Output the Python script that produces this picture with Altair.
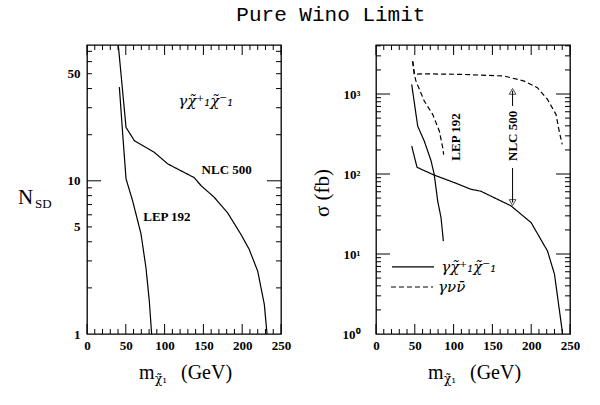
import altair as alt
import pandas as pd

# ---------------- data ----------------
# Left panel: N_SD vs chargino mass
left_nlc_m = [40.0, 50.3, 61, 87, 104, 138, 147, 164, 181, 198, 209, 220, 228.5, 232]
left_nlc_v = [80, 22.3, 18.3, 15.3, 12.9, 10.5, 9.3, 7.8, 6.2, 4.5, 3.57, 2.57, 1.56, 1.0]
left_lep_m = [41.7, 46, 50.3, 58.8, 69.6, 76, 80.3, 83.3]
left_lep_v = [40.9, 20.2, 10.3, 7.4, 4.5, 2.7, 1.64, 1.0]

# Right panel: cross sections (fb)
r_lep_solid_m = [46, 53.7, 62.2, 71, 75, 79.5, 83.8, 86.8]
r_lep_solid_v = [1320, 398, 258, 146, 99, 46, 28.5, 14.5]
r_nlc_solid_m = [46, 52.8, 58, 75, 101, 122, 135, 148, 174, 200, 221, 230, 240.5]
r_nlc_solid_v = [224, 122, 115, 97, 78, 64.6, 61, 53, 40, 24.6, 10.9, 5.6, 1.0]
r_nlc_dash_m = [47.3, 49.4, 60, 110, 165, 191, 208, 221, 232, 236, 240]
r_nlc_dash_v = [2570, 1762, 1790, 1760, 1680, 1450, 1200, 855, 557, 345, 235]
r_lep_dash_m = [47.3, 49.4, 51.5, 62.2, 73, 81.6, 86, 87.2]
r_lep_dash_v = [2570, 1762, 1450, 818, 557, 345, 213, 175]

x_major = [0, 50, 100, 150, 200, 250]
x_minor = [v for v in range(0, 251, 10) if v % 50 != 0]
left_y_labels = [1, 5, 10, 50]
left_y_major = [10]
left_y_minor = [2, 3, 4, 5, 6, 7, 8, 9, 20, 30, 40, 50, 60, 70]
right_y_labels = [1, 10, 100, 1000]
right_y_major = [10, 100, 1000]
right_y_minor = [k * 10 ** e for e in range(0, 4) for k in range(2, 10) if k * 10 ** e < 4100]

LBL_CHI = "γχ\u0303\u207a\u2081χ\u0303\u207b\u2081"
LBL_NU = "γνν\u0304"

W, H = 194, 289
TICKFONT = "Liberation Serif"
SERIF = "Liberation Serif"


def series_df(d):
    rows = []
    for name, (ms, vs) in d.items():
        for i, (m, v) in enumerate(zip(ms, vs)):
            rows.append({"series": name, "m": m, "v": v, "i": i})
    return pd.DataFrame(rows)


def make_axis(values, label_expr=None, pad=5):
    kw = dict(values=values, ticks=False, domain=False, grid=False, title=None,
              labelFont=TICKFONT, labelFontSize=13, labelFontWeight="bold",
              labelColor="black", labelPadding=pad, labelFlush=False,
              labelOverlap=False, format="d")
    if label_expr:
        kw["labelExpr"] = label_expr
    return alt.Axis(**kw)


def panel(lines_df, ydomain, ylabels, ymajor, yminor, label_expr, ypad, extra_layers):
    X = alt.X("m:Q", scale=alt.Scale(domain=[0, 250], nice=False), axis=make_axis(x_major))
    Y = alt.Y("v:Q", scale=alt.Scale(type="log", domain=ydomain, nice=False),
              axis=make_axis(ylabels, label_expr, ypad))

    lines = alt.Chart(lines_df).mark_line(color="black", strokeWidth=1.2, clip=True).encode(
        x=X, y=Y, detail="series:N", order="i:Q",
        strokeDash=alt.StrokeDash("dash:N", scale=alt.Scale(domain=["solid", "dashed"], range=[[1, 0], [5, 3]]), legend=None),
    )

    def xticks(vals, ln):
        df = pd.DataFrame({"m": vals})
        b = alt.Chart(df).mark_rule(color="black", strokeWidth=1)
        return [b.encode(x=X, y=alt.value(H), y2=alt.value(H - ln)),
                b.encode(x=X, y=alt.value(0), y2=alt.value(ln))]

    def yticks(vals, ln):
        df = pd.DataFrame({"v": vals})
        b = alt.Chart(df).mark_rule(color="black", strokeWidth=1)
        return [b.encode(y=Y, x=alt.value(0), x2=alt.value(ln)),
                b.encode(y=Y, x=alt.value(W), x2=alt.value(W - ln))]

    ticks = xticks(x_minor, 5) + xticks(x_major, 10) + yticks(yminor, 5) + yticks(ymajor, 14)
    layers = [lines] + ticks + [f(X, Y) for f in extra_layers]
    return alt.layer(*layers).properties(width=W, height=H)


def fixed_text(txt, x, y, size, angle=0, align="left", baseline="alphabetic", font=SERIF, style="normal"):
    return alt.Chart(alt.Data(values=[{"k": 0}])).mark_text(
        font=font, fontSize=size, align=align, baseline=baseline, angle=angle,
        color="black", fontStyle=style).encode(
        x=alt.value(x), y=alt.value(y), text=alt.value(txt))


# ---------- left panel ----------
left_df = series_df({"nlc": (left_nlc_m, left_nlc_v), "lep": (left_lep_m, left_lep_v)})
left_df["dash"] = "solid"

left_ann = pd.DataFrame({
    "m": [153, 180, 103],
    "v": [33, 11.7, 5.8],
    "label": [LBL_CHI, "NLC 500", "LEP 192"],
    "kind": ["chi", "plain", "plain"],
})


def left_text(X, Y):
    d1 = left_ann[left_ann.kind == "plain"]
    d2 = left_ann[left_ann.kind == "chi"]
    t1 = alt.Chart(d1).mark_text(font=SERIF, fontSize=13, fontWeight="bold", color="black").encode(x=X, y=Y, text="label:N")
    t2 = alt.Chart(d2).mark_text(font="DejaVu Serif", fontSize=15, fontStyle="italic", color="black").encode(x=X, y=Y, text="label:N")
    return alt.layer(t1, t2)


left_extra = [
    left_text,
    lambda X, Y: fixed_text("N", -69, 159, 21),
    lambda X, Y: fixed_text("SD", -52, 163, 13),
    lambda X, Y: fixed_text("m", 52, 334, 20),
    lambda X, Y: fixed_text("χ\u0303\u2081", 68, 338, 12, font="DejaVu Serif"),
    lambda X, Y: fixed_text("(GeV)", 94, 334, 20),
]

left = panel(left_df, [1, 77], left_y_labels, left_y_major, left_y_minor, None, 7, left_extra)

# ---------- right panel ----------
right_df = series_df({
    "lep_s": (r_lep_solid_m, r_lep_solid_v),
    "nlc_s": (r_nlc_solid_m, r_nlc_solid_v),
    "nlc_d": (r_nlc_dash_m, r_nlc_dash_v),
    "lep_d": (r_lep_dash_m, r_lep_dash_v),
})
right_df["dash"] = right_df["series"].map(lambda s: "dashed" if s.endswith("_d") else "solid")

rot_ann = pd.DataFrame({"m": [103, 177], "v": [290, 300], "label": ["LEP 192", "NLC 500"]})
arrow_lines = pd.DataFrame({"m": [176, 176], "v": [708, 119], "v2": [1100, 44]})
arrow_heads = pd.DataFrame({"m": [176], "v": [1080]})
arrow_heads2 = pd.DataFrame({"m": [176], "v": [44]})
legend_lines = pd.DataFrame({"m": [20.6, 19.3], "m2": [74.7, 73.5], "v": [6.9, 3.87], "dash": ["solid", "dashed"]})
legend_text = pd.DataFrame({"m": [84, 80], "v": [6.9, 3.87], "label": [LBL_CHI, LBL_NU]})


def right_text(X, Y):
    t = alt.Chart(rot_ann).mark_text(font=SERIF, fontSize=13, fontWeight="bold", angle=270, color="black").encode(x=X, y=Y, text="label:N")
    ar = alt.Chart(arrow_lines).mark_rule(color="black", strokeWidth=1).encode(x=X, y=Y, y2="v2:Q")
    h1 = alt.Chart(arrow_heads).mark_point(shape="triangle-up", filled=False, color="black", size=45, strokeWidth=1).encode(x=X, y=Y)
    h2 = alt.Chart(arrow_heads2).mark_point(shape="triangle-down", filled=False, color="black", size=45, strokeWidth=1).encode(x=X, y=Y)
    ll = alt.Chart(legend_lines).mark_rule(color="black", strokeWidth=1.2).encode(
        x=X, x2="m2:Q", y=Y,
        strokeDash=alt.StrokeDash("dash:N", scale=alt.Scale(domain=["solid", "dashed"], range=[[1, 0], [5, 3]]), legend=None))
    lt = alt.Chart(legend_text).mark_text(font="DejaVu Serif", fontSize=15, fontStyle="italic", align="left", color="black").encode(x=X, y=Y, text="label:N")
    return alt.layer(t, ar, h1, h2, ll, lt)


sup_expr = "datum.value == 1 ? '10⁰' : datum.value == 10 ? '10¹' : datum.value == 100 ? '10²' : '10³'"

right_extra = [
    right_text,
    lambda X, Y: fixed_text("σ (fb)", -53, 148, 21, angle=270, align="center", baseline="middle"),
    lambda X, Y: fixed_text("m", 52, 334, 20),
    lambda X, Y: fixed_text("χ\u0303\u2081", 68, 338, 12, font="DejaVu Serif"),
    lambda X, Y: fixed_text("(GeV)", 94, 334, 20),
]

right = panel(right_df, [1, 4100], right_y_labels, right_y_major, right_y_minor, sup_expr, 16, right_extra)

chart = alt.hconcat(left, right, spacing=95, bounds="flush").properties(
    title=alt.TitleParams("Pure Wino Limit", font="Liberation Mono", fontSize=21,
                          fontWeight="normal", anchor="middle", color="black", offset=19, dx=32),
    padding={"left": 17, "top": 3, "right": 5, "bottom": 5},
    background="white",
).configure_view(stroke="black", strokeWidth=1.3).resolve_scale(strokeDash="independent")

chart.save("out.html", embed_options={"renderer": "svg", "actions": False})
